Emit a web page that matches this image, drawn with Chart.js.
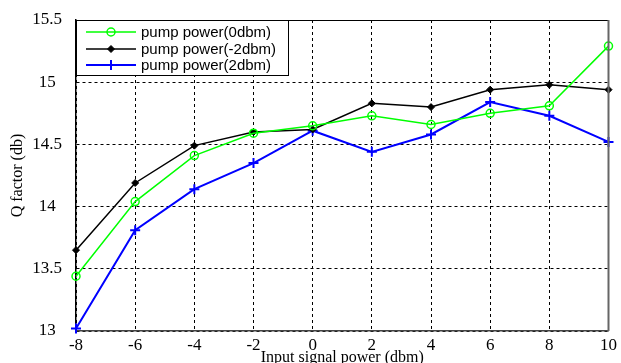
<!DOCTYPE html>
<html>
<head>
<meta charset="utf-8">
<script src="https://cdn.jsdelivr.net/npm/chart.js@4.4.0/dist/chart.umd.min.js"></script>
<style>
  body { margin: 0; background: #fff; }
</style>
</head>
<body>
<canvas id="chartQ" width="621" height="363"></canvas>
<script>
// Datos
const inputPower = [-8, -6, -4, -2, 0, 2, 4, 6, 8, 10];
const q0dbm = [13.44, 14.04, 14.41, 14.59, 14.65, 14.73, 14.66, 14.75, 14.81, 15.29];
const qMinus2dbm = [13.65, 14.19, 14.49, 14.60, 14.62, 14.83, 14.80, 14.94, 14.98, 14.94];
const q2dbm = [13.02, 13.81, 14.14, 14.35, 14.61, 14.44, 14.58, 14.84, 14.73, 14.52];
const seriesLabels = ["pump power(0dbm)", "pump power(-2dbm)", "pump power(2dbm)"];
const xTicks = [-8, -6, -4, -2, 0, 2, 4, 6, 8, 10];
const yTicks = [13, 13.5, 14, 14.5, 15, 15.5];

const toPoints = vals => inputPower.map((x, i) => ({ x: x, y: vals[i] }));

const serif = "'Liberation Serif', 'Times New Roman', serif";

// Marco superior/derecho y leyenda dentro del área
const frameAndLegend = {
  id: "frameAndLegend",
  afterDraw(chart) {
    const { ctx, chartArea: a } = chart;
    ctx.save();
    ctx.strokeStyle = "#000";
    ctx.lineWidth = 1;
    ctx.beginPath();
    ctx.moveTo(a.left, a.top + 0.5);
    ctx.lineTo(a.right, a.top + 0.5);
    ctx.stroke();
    ctx.strokeStyle = "#666";
    ctx.lineWidth = 2;
    ctx.beginPath();
    ctx.moveTo(a.right, a.top);
    ctx.lineTo(a.right, a.bottom);
    ctx.stroke();

    // leyenda
    const bx = a.left, by = a.top, bw = 212, bh = 55;
    ctx.fillStyle = "#fff";
    ctx.fillRect(bx, by, bw, bh);
    ctx.strokeStyle = "#000";
    ctx.lineWidth = 1;
    ctx.strokeRect(bx + 0.5, by + 0.5, bw, bh);
    ctx.font = "15px 'Liberation Sans', Arial, sans-serif";
    ctx.textBaseline = "middle";
    const rows = [12, 29, 45];
    chart.data.datasets.forEach((ds, i) => {
      const y = by + rows[i];
      ctx.strokeStyle = ds.borderColor;
      ctx.lineWidth = ds.borderWidth;
      ctx.beginPath();
      ctx.moveTo(bx + 10, y);
      ctx.lineTo(bx + 60, y);
      ctx.stroke();
      ctx.fillStyle = ds.pointBackgroundColor;
      ctx.strokeStyle = ds.pointBorderColor;
      ctx.lineWidth = ds.pointBorderWidth;
      Chart.helpers.drawPoint(ctx, {
        pointStyle: ds.pointStyle,
        radius: ds.pointRadius,
        rotation: 0,
        borderWidth: ds.pointBorderWidth
      }, bx + 35, y);
      ctx.fillStyle = "#000";
      ctx.fillText(ds.label, bx + 65, y + 1);
    });
    ctx.restore();
  }
};

const ctx = document.getElementById("chartQ").getContext("2d");
new Chart(ctx, {
  type: "line",
  data: {
    datasets: [{
      label: seriesLabels[0],
      data: toPoints(q0dbm),
      borderColor: "#00ff00",
      borderWidth: 1.5,
      pointStyle: "circle",
      pointRadius: 4,
      pointBackgroundColor: "rgba(0,0,0,0)",
      pointBorderColor: "#00ff00",
      pointBorderWidth: 1.5,
      clip: 10
    }, {
      label: seriesLabels[1],
      data: toPoints(qMinus2dbm),
      borderColor: "#000000",
      borderWidth: 1.5,
      pointStyle: "rectRot",
      pointRadius: 3.5,
      pointBackgroundColor: "#000000",
      pointBorderColor: "#000000",
      pointBorderWidth: 1,
      clip: 10
    }, {
      label: seriesLabels[2],
      data: toPoints(q2dbm),
      borderColor: "#0000ff",
      borderWidth: 2,
      pointStyle: "cross",
      pointRadius: 5,
      pointBackgroundColor: "#0000ff",
      pointBorderColor: "#0000ff",
      pointBorderWidth: 2,
      clip: 10
    }]
  },
  options: {
    responsive: false,
    animation: false,
    tension: 0,
    layout: { padding: { top: 20, right: 8, left: 0, bottom: 0 } },
    plugins: { legend: { display: false }, tooltip: { enabled: false } },
    scales: {
      x: {
        type: "linear",
        min: -8,
        max: 10,
        afterBuildTicks: s => { s.ticks = xTicks.map(v => ({ value: v })); },
        afterFit: s => { s.height = 32; },
        grid: { color: "#000", lineWidth: 1, drawTicks: false },
        border: { display: true, color: "#444", width: 1.5, dash: [3, 3] },
        ticks: { color: "#000", padding: 4, font: { family: serif, size: 17 } },
        title: {
          display: true,
          text: "Input signal power (dbm)",
          color: "#000",
          font: { family: serif, size: 16 },
          padding: { top: 0, bottom: -4 }
        }
      },
      y: {
        min: 13,
        max: 15.5,
        afterBuildTicks: s => { s.ticks = yTicks.map(v => ({ value: v })); },
        afterFit: s => { s.width = 76; s.paddingTop = 0; s.paddingBottom = 0; },
        grid: { color: "#000", lineWidth: 1, drawTicks: false },
        border: { display: true, color: "#000", width: 1.5, dash: [3, 3] },
        ticks: {
          color: "#000",
          padding: 14,
          crossAlign: "center",
          font: { family: serif, size: 17 },
          callback: v => String(v)
        },
        title: {
          display: true,
          text: "Q factor (db)",
          color: "#000",
          font: { family: serif, size: 16 },
          padding: { top: 8, bottom: 0 }
        }
      }
    }
  },
  plugins: [frameAndLegend]
});
</script>
</body>
</html>
